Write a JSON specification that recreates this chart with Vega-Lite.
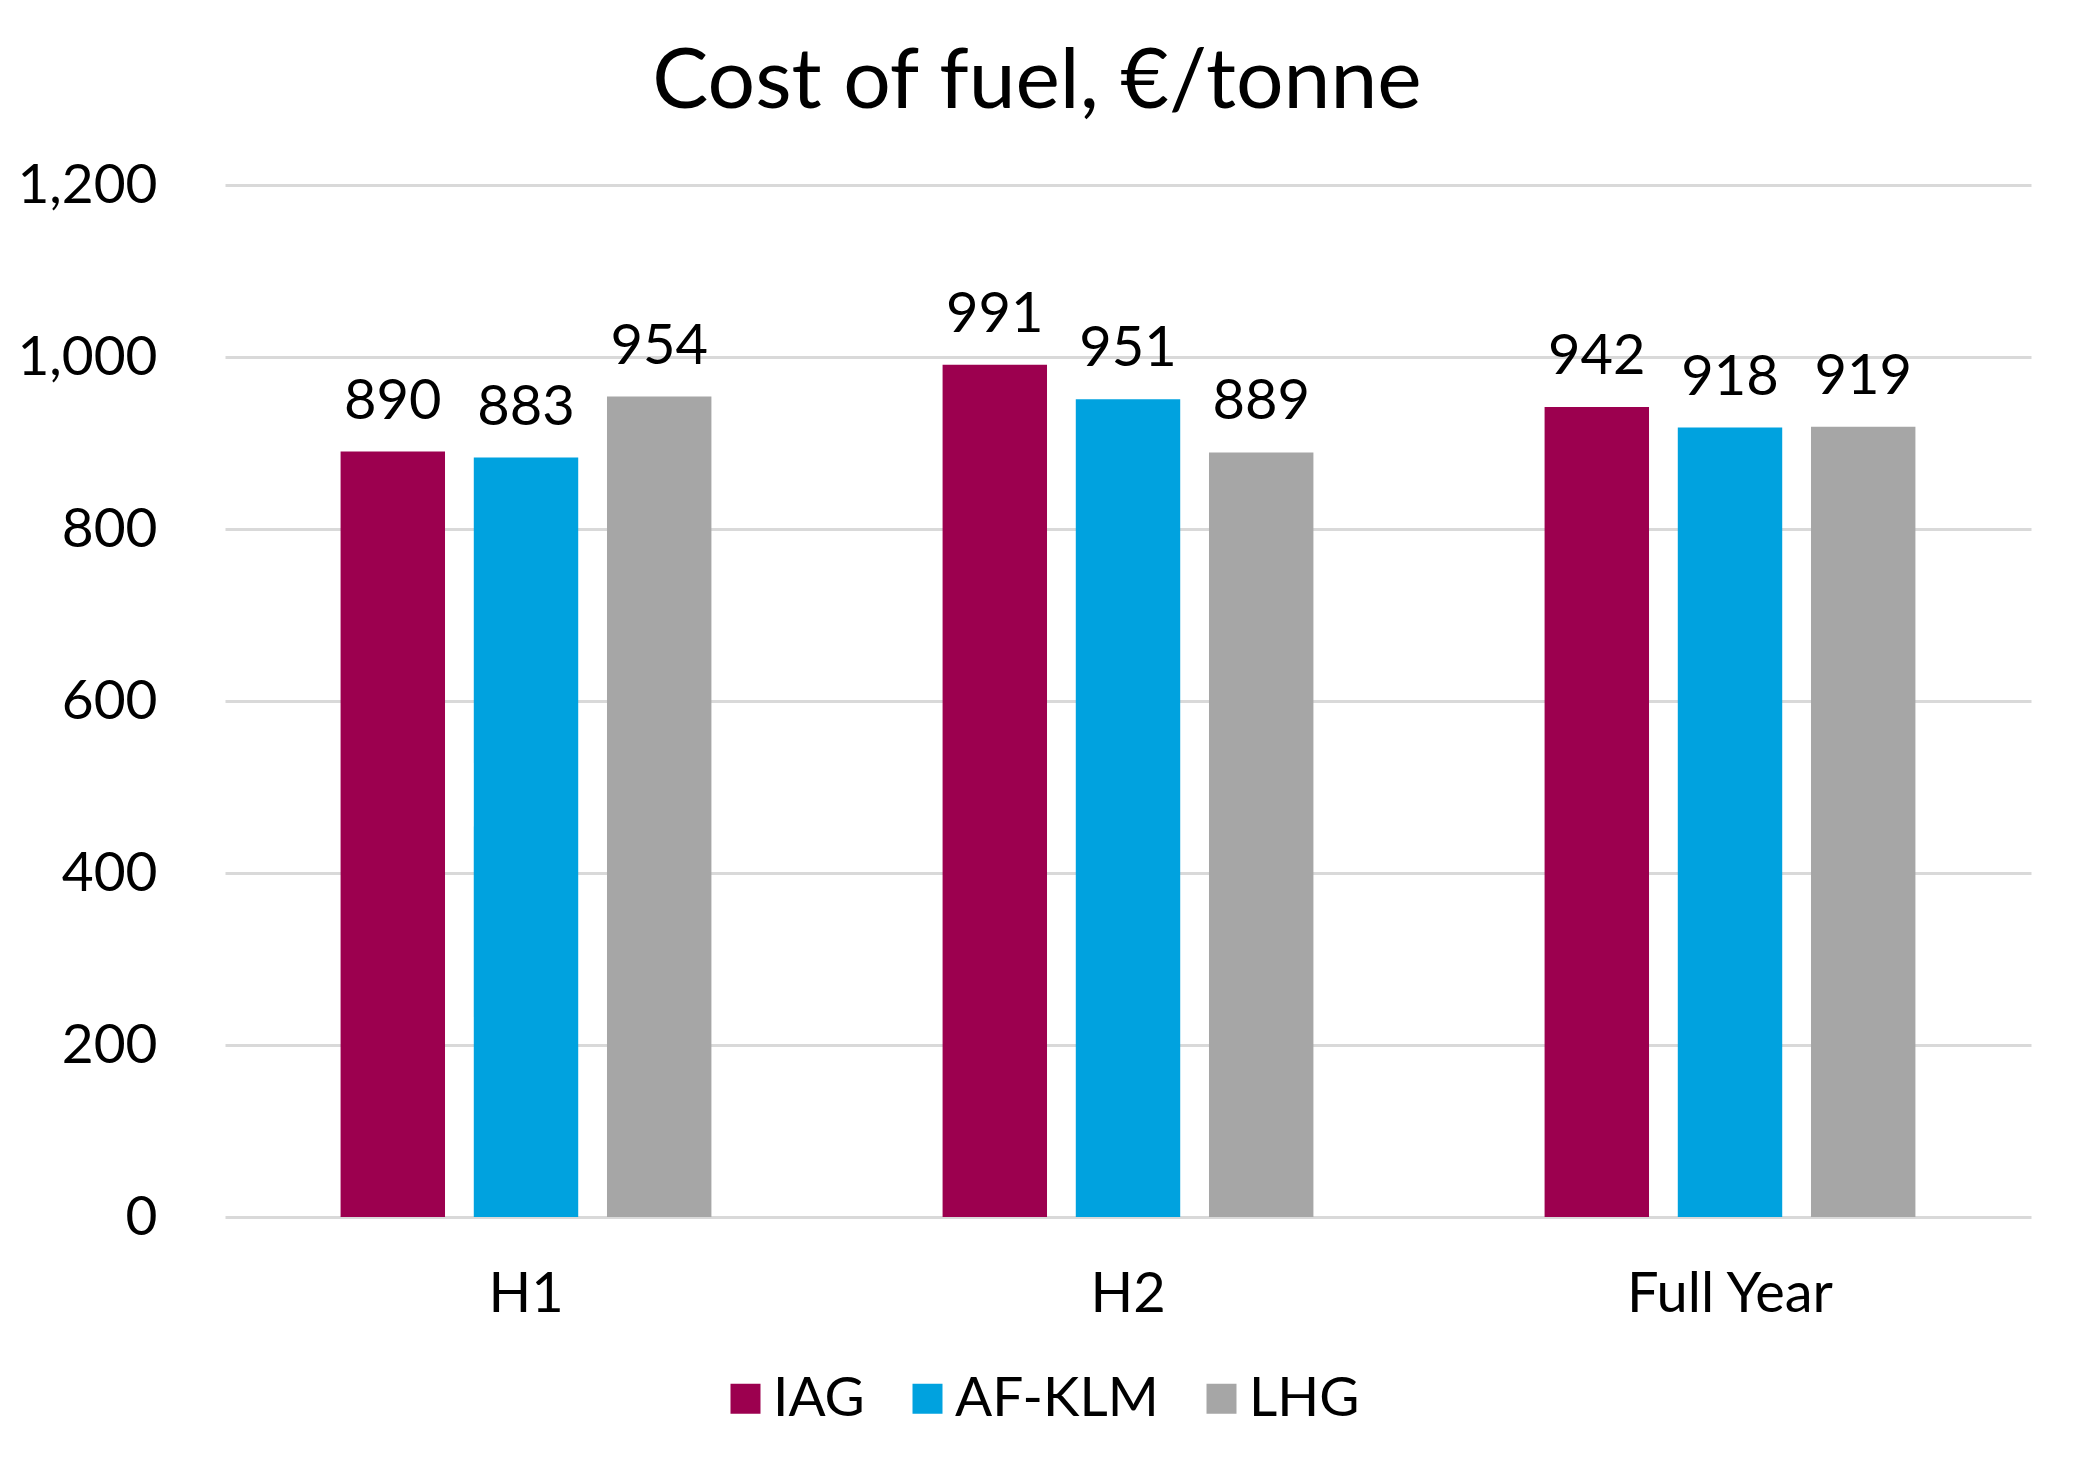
{
  "$schema": "https://vega.github.io/schema/vega-lite/v6.json",
  "width": 1806,
  "height": 1032,
  "autosize": {"type": "none"},
  "padding": {"left": 225, "top": 185, "right": 48, "bottom": 249},
  "background": "white",
  "config": {
    "view": {"stroke": null},
    "font": "Lato",
    "axis": {"labelFont": "Lato", "labelColor": "#000000"},
    "legend": {"labelFont": "Lato"}
  },
  "title": {
    "text": "Cost of fuel, €/tonne",
    "font": "Lato",
    "fontSize": 84,
    "fontWeight": "normal",
    "color": "#000000",
    "anchor": "middle",
    "frame": "bounds",
    "baseline": "alphabetic",
    "offset": -34,
    "dx": 13
  },
  "data": {
    "values": [
      {"period": "H1", "airline": "IAG", "cost": 890},
      {"period": "H1", "airline": "AF-KLM", "cost": 883},
      {"period": "H1", "airline": "LHG", "cost": 954},
      {"period": "H2", "airline": "IAG", "cost": 991},
      {"period": "H2", "airline": "AF-KLM", "cost": 951},
      {"period": "H2", "airline": "LHG", "cost": 889},
      {"period": "Full Year", "airline": "IAG", "cost": 942},
      {"period": "Full Year", "airline": "AF-KLM", "cost": 918},
      {"period": "Full Year", "airline": "LHG", "cost": 919}
    ]
  },
  "encoding": {
    "x": {
      "field": "period",
      "type": "nominal",
      "sort": ["H1", "H2", "Full Year"],
      "scale": {"paddingInner": 0.384, "paddingOuter": 0.192},
      "axis": {
        "title": null,
        "labelAngle": 0,
        "labelFontSize": 56,
        "labelPadding": 50,
        "labelLimit": 0,
        "domain": false,
        "ticks": false,
        "tickSize": 0,
        "grid": false
      }
    },
    "xOffset": {
      "field": "airline",
      "type": "nominal",
      "sort": ["IAG", "AF-KLM", "LHG"],
      "scale": {"paddingInner": 0.216, "paddingOuter": 0}
    },
    "y": {
      "field": "cost",
      "type": "quantitative",
      "scale": {"domain": [0, 1200], "nice": false},
      "axis": {
        "title": null,
        "values": [0, 200, 400, 600, 800, 1000, 1200],
        "format": ",d",
        "labelFontSize": 55,
        "labelPadding": 68,
        "labelLimit": 0,
        "domain": false,
        "ticks": false,
        "tickSize": 0,
        "grid": true,
        "gridColor": "#D9D9D9",
        "gridWidth": 3
      }
    }
  },
  "layer": [
    {
      "mark": {"type": "bar"},
      "encoding": {
        "color": {
          "field": "airline",
          "type": "nominal",
          "sort": ["IAG", "AF-KLM", "LHG"],
          "scale": {
            "domain": ["IAG", "AF-KLM", "LHG"],
            "range": ["#9C004F", "#00A2DF", "#A6A6A6"]
          },
          "legend": {
            "title": null,
            "orient": "none",
            "direction": "horizontal",
            "legendX": 493,
            "legendY": 1186,
            "symbolType": "square",
            "symbolSize": 900,
            "symbolStrokeWidth": 0,
            "labelFontSize": 55,
            "labelColor": "#000000",
            "labelOffset": 0,
            "labelLimit": 0,
            "columnPadding": 35,
            "padding": 0
          }
        }
      }
    },
    {
      "mark": {
        "type": "text",
        "font": "Lato",
        "fontSize": 56,
        "color": "#000000",
        "align": "center",
        "baseline": "alphabetic",
        "dy": -33
      },
      "encoding": {
        "text": {"field": "cost", "type": "quantitative", "format": "d"}
      }
    }
  ]
}
